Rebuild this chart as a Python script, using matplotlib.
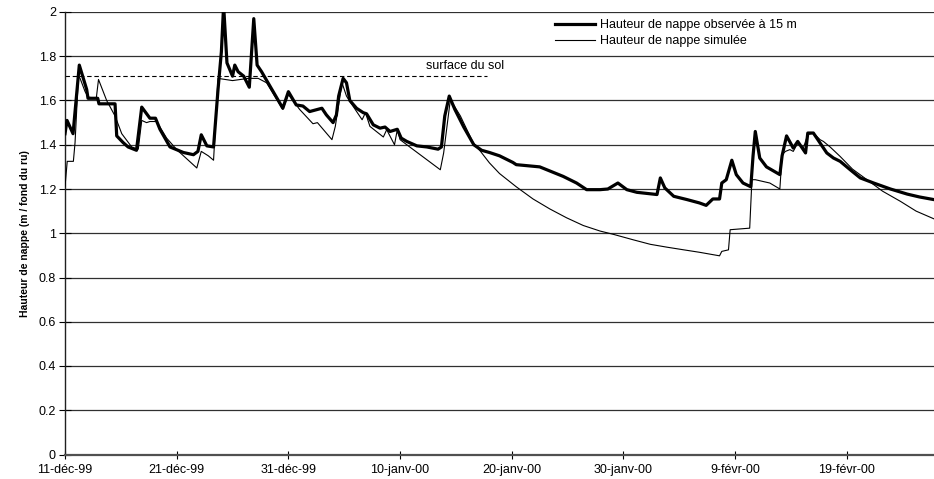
import matplotlib
matplotlib.use("Agg")
import matplotlib.pyplot as plt

plt.rcParams['font.family'] = ['Liberation Sans', 'DejaVu Sans']

# jours depuis le 11-déc-99
obs_jour = [0, 0.18, 0.72, 1.28, 1.94, 2.06, 2.93, 3.04, 4.48, 4.63, 5.2, 5.65, 6.4,
            6.87, 7.6, 8.1, 8.5, 9.4, 10.6, 11.5, 11.9, 12.2, 12.7, 13.3, 13.7, 14.0,
            14.2, 14.5, 15.0, 15.2, 15.5, 16.0, 16.5, 16.9, 17.2, 17.6, 18.35, 19.5,
            20.0, 20.7, 21.3, 21.9, 23.0, 23.4, 24.0, 24.3, 24.5, 24.9, 25.2, 25.5,
            26.1, 26.7, 27.0, 27.6, 28.2, 28.65, 29.1, 29.75, 30.1, 30.6, 31.5, 32.4,
            33.4, 33.7, 34.0, 34.4, 34.9, 35.7, 36.6, 37.3, 38.0, 38.9, 40.1, 40.4,
            42.5, 44.6, 45.8, 46.7, 47.9, 48.6, 49.5, 50.3, 51.2, 53.0, 53.3, 53.7,
            54.5, 55.7, 56.8, 57.4, 58.0, 58.6, 58.8, 59.2, 59.7, 60.1, 60.7, 61.4,
            61.6, 61.8, 62.2, 62.8, 64.0, 64.2, 64.6, 65.2, 65.6, 66.3, 66.5, 67.0,
            67.6, 68.2, 68.8, 69.4, 70.3, 71.2, 72.4, 73.9, 75.4, 76.5, 77.8]
obs_h = [1.45, 1.51, 1.45, 1.76, 1.65, 1.61, 1.61, 1.585, 1.585, 1.44, 1.41, 1.39, 1.375,
         1.57, 1.52, 1.52, 1.47, 1.39, 1.365, 1.355, 1.37, 1.445, 1.395, 1.39, 1.65, 1.82,
         2.03, 1.77, 1.71, 1.76, 1.73, 1.71, 1.66, 1.97, 1.76, 1.73, 1.665, 1.565,
         1.64, 1.58, 1.575, 1.55, 1.565, 1.535, 1.50, 1.535, 1.62, 1.70, 1.68, 1.60,
         1.565, 1.545, 1.54, 1.49, 1.475, 1.48, 1.46, 1.47, 1.43, 1.415, 1.395, 1.39,
         1.38, 1.39, 1.53, 1.62, 1.56, 1.48, 1.40, 1.375, 1.365, 1.35, 1.32, 1.31,
         1.30, 1.257, 1.227, 1.197, 1.197, 1.20, 1.227, 1.197, 1.185, 1.175, 1.25, 1.205,
         1.167, 1.152, 1.137, 1.126, 1.155, 1.155, 1.227, 1.242, 1.33, 1.265, 1.227, 1.21,
         1.35, 1.46, 1.34, 1.30, 1.265, 1.35, 1.44, 1.385, 1.415, 1.363, 1.453, 1.453,
         1.408, 1.363, 1.34, 1.325, 1.287, 1.25, 1.227, 1.20, 1.177, 1.164, 1.152]

sim_jour = [0, 0.2, 0.75, 0.9, 1.2, 1.35, 1.8, 2.1, 2.8, 3.0, 3.73, 4.48, 5.08, 5.97,
            6.56, 6.87, 7.3, 7.6, 8.2, 9.1, 10.0, 11.8, 12.2, 12.83, 13.3, 13.7, 15.0,
            16.4, 17.3, 18.05, 19.5, 20.0, 21.0, 22.2, 22.6, 23.9, 24.2, 24.8, 25.2,
            25.5, 26.6, 26.9, 27.3, 28.5, 28.8, 29.5, 29.75, 30.0, 30.6, 33.6, 33.9,
            34.5, 35.4, 36.55, 37.2, 38.0, 38.9, 40.4, 41.9, 43.4, 44.9, 46.4, 47.9,
            49.1, 50.9, 52.4, 53.9, 55.4, 56.8, 58.6, 58.8, 59.4, 59.55, 61.3, 61.5,
            61.8, 63.1, 64.0, 64.2, 64.5, 64.9, 65.2, 65.6, 66.1, 66.5, 67.0, 67.6,
            67.9, 68.5, 69.4, 70.5, 71.8, 73.2, 74.8, 76.2, 77.8]
sim_h = [1.21, 1.325, 1.325, 1.41, 1.71, 1.70, 1.64, 1.615, 1.61, 1.695, 1.60, 1.53, 1.45,
         1.39, 1.38, 1.51, 1.50, 1.505, 1.505, 1.43, 1.378, 1.295, 1.37, 1.35, 1.33, 1.70,
         1.69, 1.70, 1.70, 1.68, 1.56, 1.627, 1.56, 1.495, 1.50, 1.423, 1.483, 1.68, 1.62,
         1.596, 1.513, 1.545, 1.483, 1.435, 1.468, 1.40, 1.468, 1.423, 1.40, 1.287, 1.363,
         1.604, 1.53, 1.408, 1.37, 1.318, 1.27, 1.21, 1.155, 1.11, 1.07, 1.035, 1.01,
         0.995, 0.97, 0.95, 0.937, 0.925, 0.914, 0.898, 0.918, 0.925, 1.016, 1.023, 1.242,
         1.242, 1.227, 1.20, 1.355, 1.37, 1.378, 1.37, 1.408, 1.385, 1.446, 1.453, 1.423,
         1.415, 1.39, 1.347, 1.29, 1.242, 1.19, 1.144, 1.10, 1.065]

sol_jour = [0, 37.8]
sol_h = [1.71, 1.71]

xtick_jour = [0, 10, 20, 30, 40, 50, 60, 70]
xtick_labels = ['11-déc-99', '21-déc-99', '31-déc-99', '10-janv-00', '20-janv-00',
                '30-janv-00', '9-févr-00', '19-févr-00']
ytick_val = [0, 0.2, 0.4, 0.6, 0.8, 1, 1.2, 1.4, 1.6, 1.8, 2]
ytick_labels = ['0', '0.2', '0.4', '0.6', '0.8', '1', '1.2', '1.4', '1.6', '1.8', '2']

fig = plt.figure(figsize=(9.34, 4.79), dpi=100)
ax = fig.add_axes([65 / 934, 24.5 / 479, 869 / 934, 442.5 / 479])

for v in ytick_val[1:]:
    ax.axhline(v, color='#303030', lw=0.9, zorder=1)

ax.plot(sol_jour, sol_h, color='black', lw=0.8, dashes=(4, 2.5), zorder=2)
ax.text(35.8, 1.758, 'surface du sol', fontsize=9, ha='center', va='center')

ax.plot(obs_jour, obs_h, color='black', lw=2.3, zorder=4,
        label='Hauteur de nappe observée à 15 m')
ax.plot(sim_jour, sim_h, color='black', lw=0.8, zorder=3,
        label='Hauteur de nappe simulée')

ax.set_xlim(0, 77.8)
ax.set_ylim(0, 2)
ax.set_xticks(xtick_jour)
ax.set_xticklabels(xtick_labels, fontsize=9)
ax.set_yticks(ytick_val)
ax.set_yticklabels(ytick_labels, fontsize=9)
ax.tick_params(axis='y', direction='inout', length=9, width=0.8, pad=2)
ax.tick_params(axis='x', direction='inout', length=6, width=0.8, pad=4)

ax.spines['top'].set_visible(False)
ax.spines['right'].set_visible(False)
ax.spines['left'].set_color('#202020')
ax.spines['left'].set_linewidth(1.0)
ax.spines['bottom'].set_color('#505050')
ax.spines['bottom'].set_linewidth(1.6)

ax.set_ylabel('Hauteur de nappe (m / fond du ru)', fontsize=7.5, fontweight='bold')
ax.yaxis.set_label_coords(-35 / 869, 0.5)

ax.legend(loc='upper left', bbox_to_anchor=((555 - 65) / 869, (454.5 - 19) / 442.5),
          frameon=False, fontsize=9, handlelength=3.2, handletextpad=0.4,
          labelspacing=0.35, borderpad=0, borderaxespad=0)

fig.savefig('out.png', dpi=100)
